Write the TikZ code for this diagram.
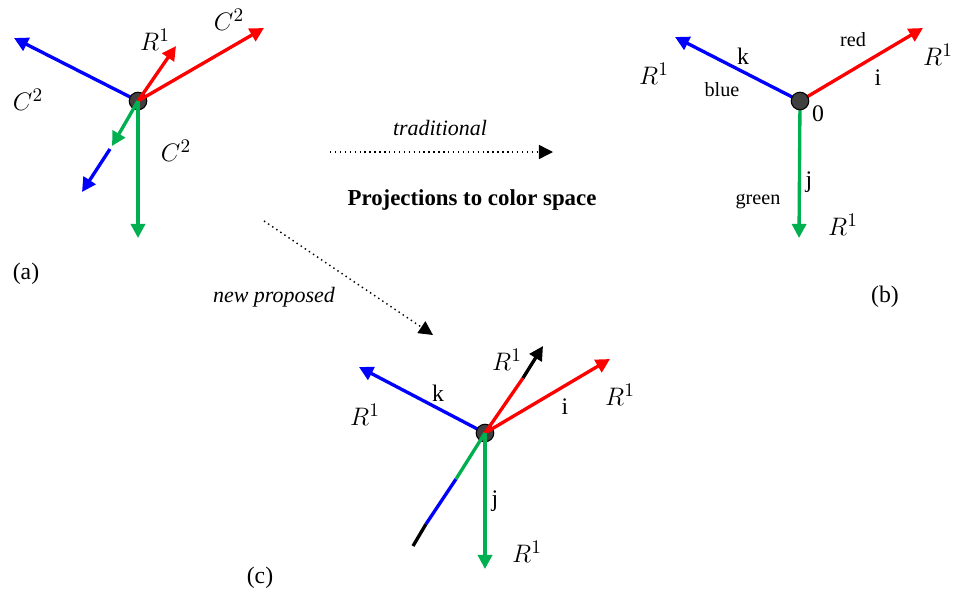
\documentclass[tikz,border=0pt]{standalone}
\usepackage{fontspec}
\setmainfont{Liberation Serif}
\usepackage{xcolor}
\usetikzlibrary{arrows.meta}
\definecolor{vblue}{RGB}{0,0,255}
\definecolor{vred}{RGB}{255,0,0}
\definecolor{vgreen}{RGB}{0,176,80}
\definecolor{dotgray}{HTML}{404040}

\begin{document}
\begin{tikzpicture}[
    x=0.02cm, y=-0.02cm,
    vec/.style={line width=1.9pt, -{Triangle[length=8pt,width=8pt]}},
    seg/.style={line width=1.9pt},
    dot/.style={circle, draw=black, fill=dotgray, line width=0.6pt, minimum size=10pt, inner sep=0pt},
    lbl/.style={font=\fontsize{13.5}{15}\selectfont, inner sep=0pt},
    mlbl/.style={font=\fontsize{15.5}{17}\selectfont, inner sep=0pt},
    cname/.style={font=\fontsize{11.5}{13}\selectfont, inner sep=0pt},
    flow/.style={dotted, line width=0.8pt, -{Triangle[length=8pt,width=8pt]}}
]
\useasboundingbox (0,0) rectangle (953,592);

% (a) before projection
\coordinate (oa) at (138,101);
\coordinate (ablue) at (14,38);
\coordinate (ared1) at (176,46);
\coordinate (ared2) at (264,28);
\coordinate (agreen1) at (112,146);
\coordinate (ablue2a) at (110,149);
\coordinate (ablue2b) at (82,192);
\coordinate (agreen2) at (138,238);
\draw[vec, vblue] (oa) -- (ablue);
\node[dot] (dota) at (oa) {};
\draw[vec, vred] (oa) -- (ared1);
\draw[vec, vred] (oa) -- (ared2);
\draw[vec, vgreen] (oa) -- (agreen1);
\draw[vec, vblue] (ablue2a) -- (ablue2b);
\draw[vec, vgreen] (oa) -- (agreen2);
\node[mlbl] (ar) at (155,40) {$R^1$};
\node[mlbl] (ac1) at (229,20) {$C^2$};
\node[mlbl] (ac2) at (28,100) {$C^2$};
\node[mlbl] (ac3) at (176,151) {$C^2$};
\node[lbl] (capa) at (26,274) {(a)};

% (b) traditional
\coordinate (ob) at (800,101);
\coordinate (bk) at (675,37);
\coordinate (bi) at (923,28);
\coordinate (bj) at (799,238);
\draw[vec, vblue] (ob) -- (bk);
\draw[vec, vred] (ob) -- (bi);
\draw[vec, vgreen] (ob) -- (bj);
\node[dot] (dotb) at (ob) {};
\node[lbl] (bklbl) at (743,56) {k};
\node[cname] (bblue) at (722,90) {blue};
\node[mlbl] (brk) at (654,74) {$R^1$};
\node[cname] (bred) at (853,40) {red};
\node[lbl] (bilbl) at (878,78) {i};
\node[mlbl] (bri) at (938,55) {$R^1$};
\node[lbl] (bzero) at (818,114) {0};
\node[lbl] (bjlbl) at (809,182) {j};
\node[cname] (bgreen) at (758,201) {green};
\node[mlbl] (brj) at (843,225) {$R^1$};
\node[lbl] (capb) at (885,297) {(b)};

% flows
\coordinate (t1) at (330,152);
\coordinate (t2) at (553,152);
\coordinate (n1) at (264,221);
\coordinate (n2) at (433,335);
\draw[flow] (t1) -- (t2);
\draw[flow] (n1) -- (n2);
\node[lbl, font=\fontsize{12.5}{14}\selectfont\itshape] (trad) at (440,128) {traditional};
\node[lbl, font=\fontsize{13}{15}\selectfont\bfseries] (proj) at (472,200) {Projections to color space};
\node[lbl, font=\fontsize{12.5}{14}\selectfont\itshape] (newp) at (274,297) {new proposed};

% (c) new proposed
\coordinate (oc) at (485,433);
\coordinate (ck) at (359,367);
\coordinate (cr1) at (523,378);
\coordinate (cr1b) at (543,346);
\coordinate (ci) at (610,359);
\coordinate (cg1) at (456,479);
\coordinate (cg2) at (426,524);
\coordinate (cg3) at (413,546);
\coordinate (cj) at (485,569);
\draw[vec, vblue] (oc) -- (ck);
\node[dot] (dotc) at (oc) {};
\draw[seg, vred] (oc) -- (cr1);
\draw[vec, black] (cr1) -- (cr1b);
\draw[vec, vred] (oc) -- (ci);
\draw[seg, black] (cg2) -- (cg3);
\draw[seg, vblue] (cg1) -- (cg2);
\draw[seg, vgreen] (oc) -- (cg1);
\draw[vec, vgreen] (oc) -- (cj);
\node[mlbl] (crt) at (507,360) {$R^1$};
\node[mlbl] (cri) at (620,395) {$R^1$};
\node[lbl] (cklbl) at (438,393) {k};
\node[mlbl] (crk) at (365,415) {$R^1$};
\node[lbl] (cilbl) at (565,407) {i};
\node[lbl] (cjlbl) at (495,501) {j};
\node[mlbl] (crj) at (527,552) {$R^1$};
\node[lbl] (capc) at (260,578) {(c)};
\end{tikzpicture}
\end{document}
